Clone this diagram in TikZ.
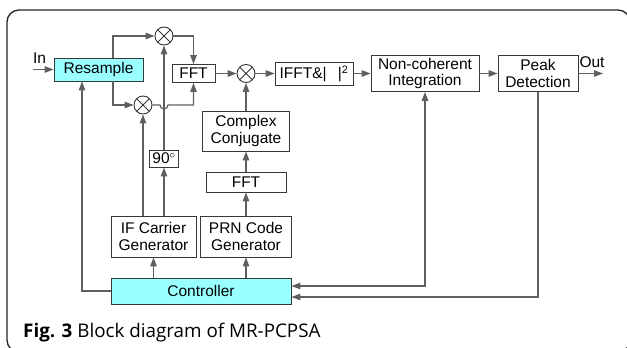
\documentclass[tikz,border=0pt]{standalone}
\usepackage{fontspec}
\setmainfont{Liberation Sans}
\newfontfamily\capfont{Open Sans}
\usetikzlibrary{arrows.meta,calc}
\definecolor{wire}{RGB}{95,95,95}
\definecolor{edge}{RGB}{55,55,55}
\definecolor{frame}{RGB}{35,35,35}
\definecolor{pale}{RGB}{153,255,255}
\tikzset{
  >={Triangle[length=9pt,width=6.5pt]},
  blk/.style={draw=edge,fill=#1,line width=0.9pt,inner sep=0pt,align=center,
    font=\fontsize{15.5}{16.5}\selectfont},
  blk/.default=white,
  mixer/.style={circle,draw=edge,line width=0.9pt,inner sep=0pt,minimum size=18pt,
    path picture={\draw[edge,line width=0.9pt]
      (path picture bounding box.north west) -- (path picture bounding box.south east)
      (path picture bounding box.north east) -- (path picture bounding box.south west);}},
  flow/.style={->,draw=wire,line width=1.2pt},
  lbl/.style={font=\fontsize{15.5}{16.5}\selectfont,inner sep=0pt},
}
\begin{document}
\begin{tikzpicture}[x=1pt,y=-1pt]
  \useasboundingbox (0,0) rectangle (627,348);
  \draw[frame,line width=1.3pt,rounded corners=12pt] (7,10) rectangle (630,352);

  % front end
  \node[blk=pale,minimum width=89pt,minimum height=23pt] (rs) at (98.5,69.5) {Resample};
  \node[mixer] (tm) at (164,36) {};
  \node[mixer] (lm) at (143,105) {};
  \node[blk,minimum width=43pt,minimum height=18pt] (fft1) at (193.5,73.5) {FFT};
  \node[blk,minimum width=29pt,minimum height=17pt] (ninety) at (164,158.5) {90$^{\circ}$};
  \node[blk,minimum width=85pt,minimum height=41pt] (ifcg) at (153.5,236.5) {IF Carrier\\Generator};
  \node[blk=pale,minimum width=180pt,minimum height=26pt] (ctrl) at (201,291) {Controller};

  % code branch
  \node[mixer] (mm) at (246,73.5) {};
  \node[blk,minimum width=87pt,minimum height=40pt] (cc) at (246,131) {Complex\\Conjugate};
  \node[blk,minimum width=80pt,minimum height=20pt] (fft2) at (246,182) {FFT};
  \node[blk,minimum width=91pt,minimum height=41pt] (prn) at (246,236.5) {PRN Code\\Generator};

  % back end
  \node[blk,minimum width=78pt,minimum height=23pt] (ifft) at (314,73.5) {IFFT\&\textbar\hspace{11pt}\textbar\textsuperscript{2}};
  \node[blk,minimum width=108pt,minimum height=36pt] (nci) at (425,73.5) {Non-coherent\\Integration};
  \node[blk,minimum width=80pt,minimum height=36pt] (pd) at (538,73.5) {Peak\\Detection};

  \coordinate (in) at (33,69.5);
  \coordinate (out) at (603,73.5);
  \node[lbl] (inl) at (39.5,58) {In};
  \node[lbl] (outl) at (592,62) {Out};

  \draw[flow] (in) -- (rs.west);
  \draw[flow] ([xshift=14.5]rs.north) |- (tm.west);
  \draw[flow] ([xshift=14.5]rs.south) |- (lm.west);
  \draw[flow] (tm.east) -| (fft1.north);
  \draw[flow] (lm.east) -- ($(lm.east-|ninety)+(-4,0)$) arc[start angle=180,end angle=360,radius=4pt] -| (fft1.south);
  \draw[flow] (ninety.north) -- (tm.south);
  \draw[flow] (lm|-ifcg.north) -- (lm.south);
  \draw[flow] (ninety|-ifcg.north) -- (ninety.south);
  \draw[flow] (ctrl.north-|ifcg) -- (ifcg.south);
  \draw[flow] (ctrl.north-|prn) -- (prn.south);
  \draw[flow] (ctrl.west) -| ([xshift=-16.5]rs.south);
  \foreach \a/\b in {prn/fft2,fft2/cc,cc/mm}
    \draw[flow] (\a.north) -- (\b.south);
  \foreach \a/\b in {fft1/mm,mm/ifft,ifft/nci,nci/pd}
    \draw[flow] (\a.east) -- (\b.west);
  \draw[flow] (pd.east) -- (out);
  \draw[flow,<->] ([yshift=5]ctrl.east) -| (nci.south);
  \draw[flow] (pd.south) |- ([yshift=-6]ctrl.east);

  \node[anchor=base west,inner sep=0pt,font=\capfont\fontsize{18.8}{21}\selectfont] (cap) at (23,337)
    {\textbf{Fig. 3} Block diagram of MR-PCPSA};
\end{tikzpicture}
\end{document}
